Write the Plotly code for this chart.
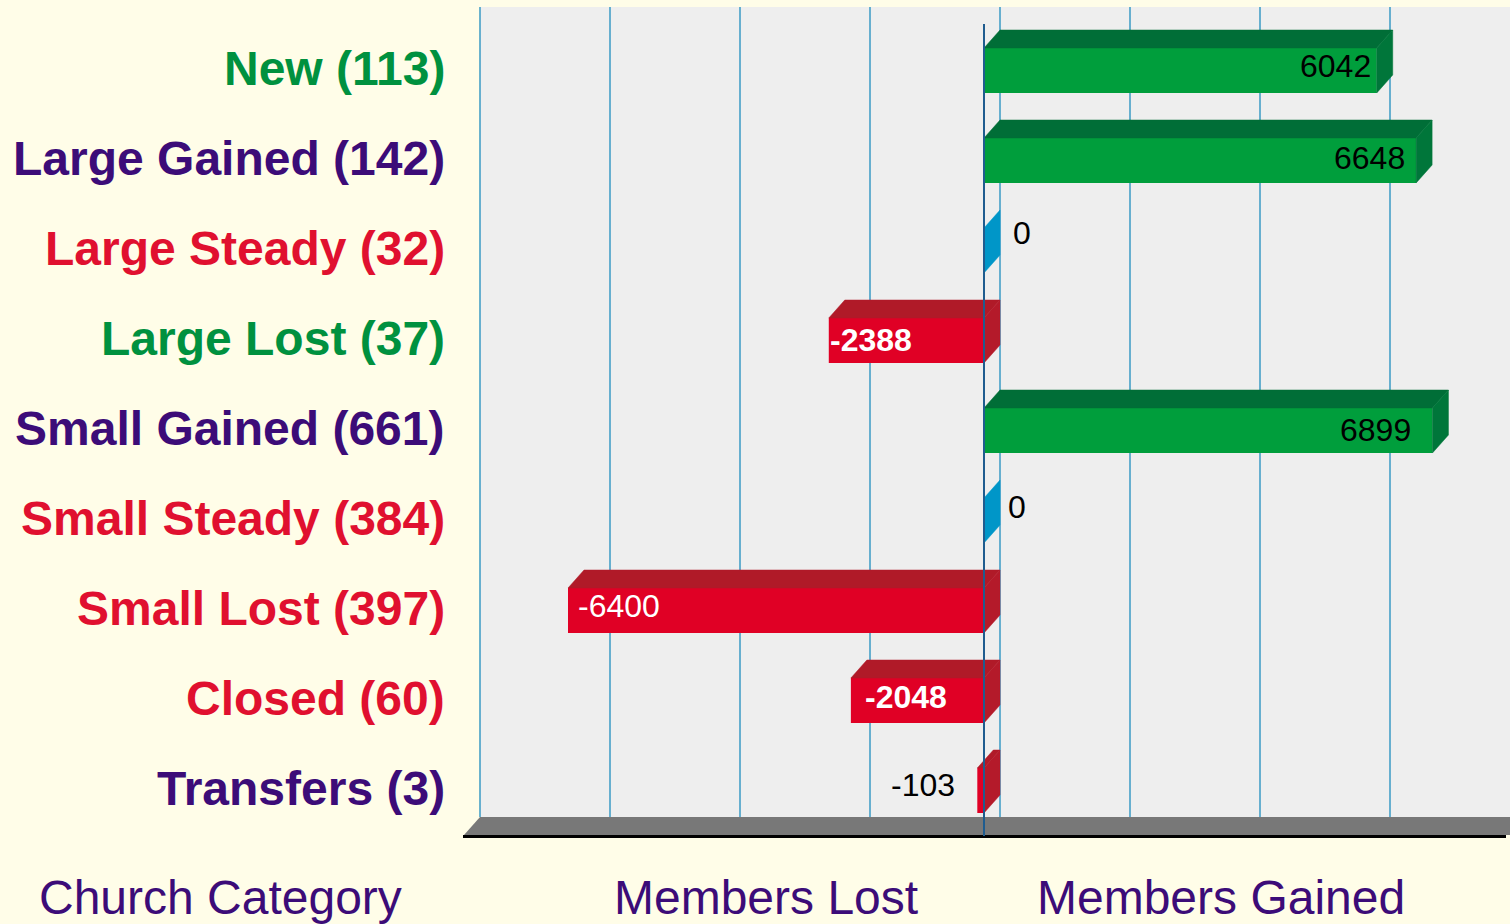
import plotly.graph_objects as go

# ---------------- data ----------------
categories = ["New (113)", "Large Gained (142)", "Large Steady (32)", "Large Lost (37)",
              "Small Gained (661)", "Small Steady (384)", "Small Lost (397)", "Closed (60)",
              "Transfers (3)"]
values = [6042, 6648, 0, -2388, 6899, 0, -6400, -2048, -103]
label_colors = ["#00913F", "#3C0C78", "#E0102F", "#00913F", "#3C0C78",
                "#E0102F", "#E0102F", "#E0102F", "#3C0C78"]
grid_values = [-8000, -6000, -4000, -2000, 0, 2000, 4000, 6000]
axis_titles = ["Church Category", "Members Lost", "Members Gained"]

# ---------------- styling ----------------
FONT = "Arial, Liberation Sans, sans-serif"
CREAM = "#FFFDE8"
WALL = "#EEEEEE"
GRID = "#3A9AC4"
POS_FRONT, POS_TOP, POS_SIDE = "#009E3C", "#006E37", "#00763A"
NEG_FRONT, NEG_TOP, NEG_SIDE = "#E00025", "#B01A28", "#B41A2A"
ZERO_SIDE = "#0096C8"
PURPLE = "#3C0C78"

PX_PER_UNIT = 0.065          # horizontal scale
ROW_PX = 90.0                # vertical px per category
X_RANGE = [(463 - 984) / PX_PER_UNIT, (1510 - 984) / PX_PER_UNIT]
Y_RANGE = [-(840 - 790.5) / ROW_PX, 8 + (70.5 - 7) / ROW_PX]
DX = 16 / PX_PER_UNIT        # 3D depth offset in data units
DY = 18 / ROW_PX
H = 0.25                     # half bar thickness
FLOOR_FRONT = -(835 - 790.5) / ROW_PX
FLOOR_BACK = FLOOR_FRONT + DY

n = len(categories)
ypos = [n - 1 - i for i in range(n)]

fig = go.Figure()

# back wall
fig.add_shape(type="rect", xref="x", yref="y", layer="below",
              x0=grid_values[0] + DX, x1=X_RANGE[1] + 500,
              y0=FLOOR_BACK, y1=Y_RANGE[1] + 1, fillcolor=WALL, line_width=0)

# gridlines on back wall (below all traces)
for g in grid_values:
    fig.add_shape(type="line", xref="x", yref="y", layer="below",
                  x0=g + DX, x1=g + DX, y0=FLOOR_BACK, y1=Y_RANGE[1] + 1,
                  line=dict(color=GRID, width=1.5))

# floor
fx0 = (464 - 984) / PX_PER_UNIT
fx1 = (1506 - 984) / PX_PER_UNIT
fig.add_trace(go.Scatter(
    x=[fx0, fx0 + DX, fx1 + DX + 2000, fx1 + 2000, fx0],
    y=[FLOOR_FRONT, FLOOR_BACK, FLOOR_BACK, FLOOR_FRONT, FLOOR_FRONT],
    fill="toself", fillcolor="#787878", mode="lines", line=dict(width=0),
    hoverinfo="skip"))
fig.add_trace(go.Scatter(x=[(463 - 984) / PX_PER_UNIT, fx1], y=[-(836.5 - 790.5) / ROW_PX] * 2,
                         mode="lines", line=dict(color="#000000", width=3), hoverinfo="skip"))

# front faces of bars
fig.add_trace(go.Bar(x=values, y=ypos, orientation="h", width=2 * H, base=0,
                     marker=dict(color=[POS_FRONT if v > 0 else NEG_FRONT for v in values],
                                 line=dict(width=0)),
                     hoverinfo="skip"))


# top and side faces
def add_polys(polys, color):
    xs, ys = [], []
    for p in polys:
        xs += [q[0] for q in p] + [p[0][0], None]
        ys += [q[1] for q in p] + [p[0][1], None]
    if xs:
        fig.add_trace(go.Scatter(x=xs, y=ys, fill="toself", fillcolor=color, mode="lines",
                                 line=dict(width=0.5, color=color), hoverinfo="skip"))


tops = {POS_TOP: [], NEG_TOP: []}
sides = {POS_SIDE: [], NEG_SIDE: [], ZERO_SIDE: []}
for v, y in zip(values, ypos):
    lo, hi = min(v, 0), max(v, 0)
    if v != 0:
        tc = POS_TOP if v > 0 else NEG_TOP
        tops[tc].append([(lo, y + H), (hi, y + H), (hi + DX, y + H + DY), (lo + DX, y + H + DY)])
    sc = POS_SIDE if v > 0 else (NEG_SIDE if v < 0 else ZERO_SIDE)
    sides[sc].append([(hi, y - H), (hi, y + H), (hi + DX, y + H + DY), (hi + DX, y - H + DY)])
for c, p in tops.items():
    add_polys(p, c)
for c, p in sides.items():
    add_polys(p, c)

# front zero line
fig.add_trace(go.Scatter(x=[0, 0], y=[-(836 - 790.5) / ROW_PX, 8 + (70.5 - 24) / ROW_PX],
                         mode="lines", line=dict(color="#1F5C8F", width=2), hoverinfo="skip"))

# value labels (anchor, xshift, yshift, font color, bold)
label_style = [
    ("right", -4, 4.5, "#000000", False),
    ("right", -9, 2.5, "#000000", False),
    ("left", 27, 17.5, "#000000", False),
    ("left", -1, 0.5, "#FFFFFF", True),
    ("right", -19, 0.5, "#000000", False),
    ("left", 22, 13.5, "#000000", False),
    ("left", 8, 4.5, "#FFFFFF", False),
    ("left", 12, 3.5, "#FFFFFF", True),
    ("right", -20, 5.5, "#000000", False),
]
for v, y, (anc, xs, ys, col, bold) in zip(values, ypos, label_style):
    txt = f"<b>{v}</b>" if bold else f"{v}"
    fig.add_annotation(x=v, y=y, xref="x", yref="y", text=txt, showarrow=False,
                       xanchor=anc, yanchor="middle", xshift=xs, yshift=ys,
                       font=dict(family=FONT, size=32, color=col))

# category labels
for cat, y, col in zip(categories, ypos, label_colors):
    fig.add_annotation(x=0, xref="paper", y=y, yref="y", text=f"<b>{cat}</b>",
                       showarrow=False, xanchor="right", yanchor="middle",
                       xshift=-16, yshift=2.5, font=dict(family=FONT, size=48, color=col))

# bottom titles
title_pos = [("left", -426), ("center", 303), ("center", 758)]
for t, (anc, xs) in zip(axis_titles, title_pos):
    fig.add_annotation(x=0, xref="paper", y=0, yref="paper", text=t, showarrow=False,
                       xanchor=anc, yanchor="middle", xshift=xs, yshift=-57,
                       font=dict(family=FONT, size=48, color=PURPLE))

fig.update_layout(
    width=1510, height=924,
    margin=dict(l=463, r=0, t=7, b=84),
    paper_bgcolor=CREAM, plot_bgcolor=CREAM,
    showlegend=False, barmode="overlay",
    xaxis=dict(range=X_RANGE, showgrid=False, zeroline=False, showticklabels=False,
               fixedrange=True),
    yaxis=dict(range=Y_RANGE, showgrid=False, zeroline=False, showticklabels=False,
               fixedrange=True),
)

fig.write_html("out.html", config={"displayModeBar": False},
               post_script="document.body.style.margin='0';document.body.style.overflow='hidden';")
